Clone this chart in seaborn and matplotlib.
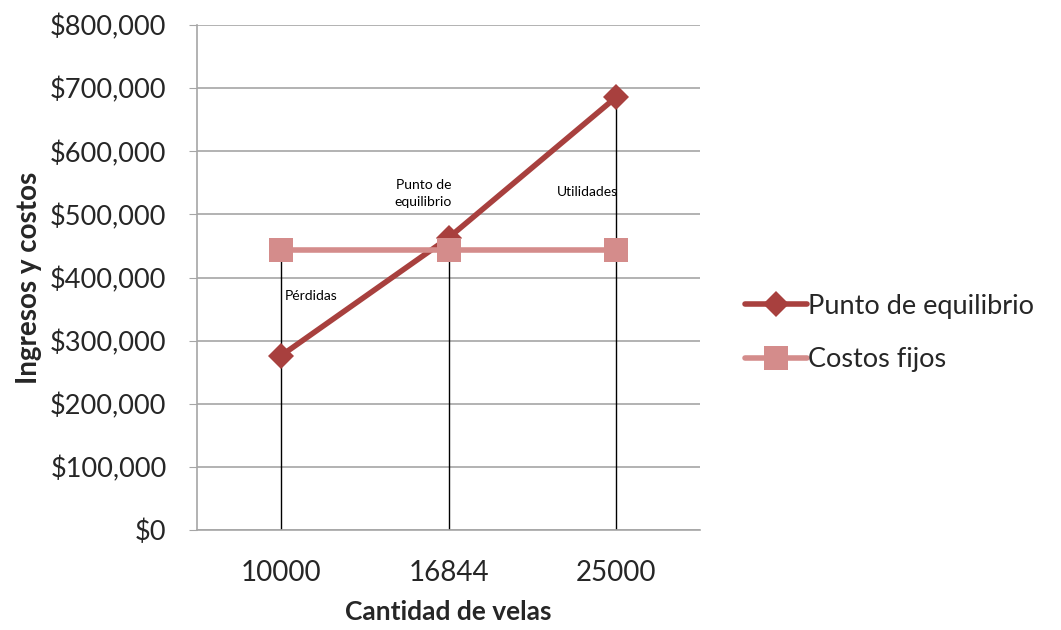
import pandas as pd
import matplotlib
matplotlib.use("Agg")
import matplotlib.pyplot as plt
import seaborn as sns
from matplotlib.ticker import FuncFormatter

# Datos
cantidades = ["10000", "16844", "25000"]
punto_equilibrio = [276000, 463000, 686000]
costos_fijos = [444000, 444000, 444000]

series = ["Punto de equilibrio", "Costos fijos"]
colores = {"Punto de equilibrio": "#A8403E", "Costos fijos": "#D48C8B"}

etiquetas = [("Pérdidas", 0.18, 370000), ("Punto de\nequilibrio", 0.85, 533000),
             ("Utilidades", 1.83, 535000)]

df = pd.DataFrame({
    "Cantidad de velas": cantidades * 2,
    "valor": punto_equilibrio + costos_fijos,
    "serie": [series[0]] * 3 + [series[1]] * 3,
})

sns.set_style("white")
plt.rcParams["font.family"] = ["Lato", "DejaVu Sans"]

fig = plt.figure(figsize=(10.61, 6.30), dpi=100)
ax = fig.add_axes([0.1857, 0.1587, 0.4743, 0.8016])

# líneas de caída (drop lines) desde el valor máximo hasta el eje
maximos = [max(a, b) for a, b in zip(punto_equilibrio, costos_fijos)]
ax.vlines(range(len(cantidades)), 0, maximos, color="black", lw=1, zorder=1)

sns.lineplot(data=df, x="Cantidad de velas", y="valor", hue="serie",
             style="serie", markers={series[0]: "D", series[1]: "s"},
             dashes=False, palette=colores, lw=4, ax=ax, zorder=3)
for line in ax.lines:
    if line.get_marker() == "s":
        line.set_markersize(17)
    else:
        line.set_markersize(13)
    line.set_markeredgewidth(0)

ax.set_xlim(-0.5, 2.5)
ax.set_ylim(0, 800000)
ax.set_yticks(range(0, 800001, 100000))
ax.yaxis.set_major_formatter(FuncFormatter(lambda v, p: f"${v:,.0f}"))
ax.grid(axis="y", color="#A6A6A6", lw=1.2)
ax.set_axisbelow(True)

for s in ["top", "right"]:
    ax.spines[s].set_visible(False)
for s in ["left", "bottom"]:
    ax.spines[s].set_color("#A6A6A6")
    ax.spines[s].set_linewidth(1.2)

ax.tick_params(axis="y", left=True, length=6, color="#A6A6A6", labelsize=19.5, pad=16)
ax.tick_params(axis="x", bottom=False, labelsize=20, pad=18)

ax.set_xlabel("Cantidad de velas", fontsize=19, fontweight="bold", labelpad=10)
ax.set_ylabel("Ingresos y costos", fontsize=20, fontweight="bold", labelpad=6)

for texto, x, y in etiquetas:
    ax.text(x, y, texto, fontsize=10, ha="center", va="center", color="black",
            linespacing=1.5)

handles, labels = ax.get_legend_handles_labels()
ax.legend(handles, labels, loc="center left", bbox_to_anchor=(1.04, 0.39),
          frameon=False, fontsize=19.5, handlelength=2.3, handletextpad=0.05,
          labelspacing=1.05)

fig.savefig("out.png", dpi=100)
